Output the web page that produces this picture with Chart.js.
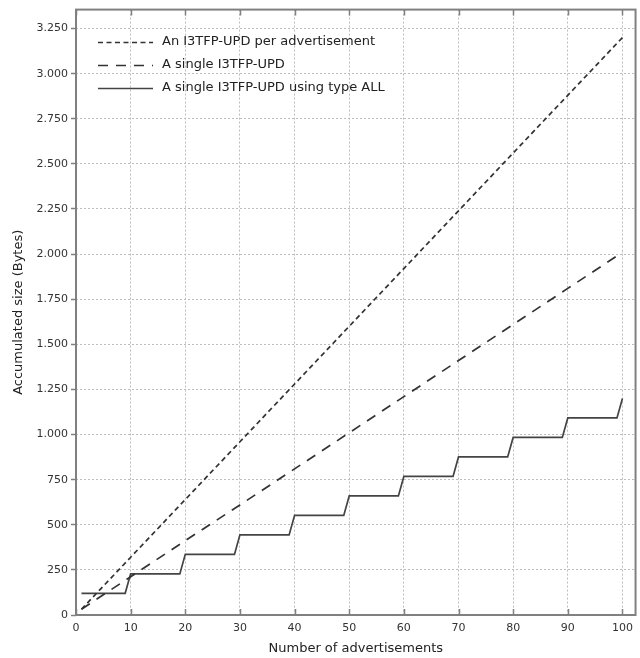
<!DOCTYPE html>
<html>
<head>
<meta charset="utf-8">
<script src="https://cdn.jsdelivr.net/npm/chart.js@4/dist/chart.umd.min.js"></script>
<style>
  html, body { margin: 0; padding: 0; background: #fff; }
  #wrap { width: 640px; height: 658px; }
</style>
</head>
<body>
<div id="wrap"><canvas id="chart" width="640" height="658"></canvas></div>
<script>
// Series names (legend order)
const seriesNames = [
    "An I3TFP-UPD per advertisement",
    "A single I3TFP-UPD",
    "A single I3TFP-UPD using type ALL"
];

// Number of advertisements (x) and accumulated size (y)
const perAdX = [1, 10, 20, 30, 40, 50, 60, 70, 80, 90, 100];
const perAdY = [32, 320, 640, 960, 1280, 1600, 1920, 2240, 2560, 2880, 3200];

const singleX = [1, 10, 20, 30, 40, 50, 60, 70, 80, 90, 100];
const singleY = [32, 212, 412, 610, 810, 1010, 1210, 1410, 1610, 1810, 2010];

const allX = [1, 9, 10, 19, 20, 29, 30, 39, 40, 49, 50, 59, 60, 69, 70, 79, 80, 89, 90, 99, 100];
const allY = [120, 120, 228, 228, 336, 336, 444, 444, 552, 552, 660, 660, 768, 768, 876, 876, 984, 984, 1092, 1092, 1200];

const FONT = "'DejaVu Sans', sans-serif";
const frameColor = "#808080";
const gridColor = "#bdbdbd";

function pts(xs, ys) {
    return xs.map(function (x, i) { return { x: x, y: ys[i] }; });
}

// y labels use a dot as thousands separator
function fmtThousands(v) {
    if (v < 1000) return String(v);
    let rest = String(v % 1000);
    while (rest.length < 3) rest = "0" + rest;
    return Math.floor(v / 1000) + "." + rest;
}

// frame, inner tick marks and the in-plot legend
const framePlugin = {
    id: "frame",
    afterDraw: function (chart) {
        const ctx = chart.ctx;
        const a = chart.chartArea;
        const xs = chart.scales.x;
        ctx.save();
        ctx.strokeStyle = frameColor;
        ctx.lineWidth = 1.5;
        ctx.setLineDash([]);
        xs.ticks.forEach(function (t) {
            const px = Math.round(xs.getPixelForValue(t.value)) + 0.5;
            ctx.beginPath();
            ctx.moveTo(px, a.bottom);
            ctx.lineTo(px, a.bottom - 6);
            ctx.moveTo(px, a.top);
            ctx.lineTo(px, a.top + 6);
            ctx.stroke();
        });
        ctx.lineWidth = 2;
        ctx.strokeRect(a.left, a.top, a.right - a.left, a.bottom - a.top);

        // legend
        ctx.font = "13px " + FONT;
        ctx.textBaseline = "middle";
        ctx.fillStyle = "#222";
        chart.data.datasets.forEach(function (ds, i) {
            const y = 42 + i * 23;
            ctx.strokeStyle = ds.borderColor;
            ctx.lineWidth = ds.borderWidth;
            ctx.setLineDash(ds.borderDash || []);
            ctx.beginPath();
            ctx.moveTo(98, y + 0.5);
            ctx.lineTo(153, y + 0.5);
            ctx.stroke();
            ctx.setLineDash([]);
            ctx.fillText(ds.label, 162, y);
        });
        ctx.restore();
    }
};

new Chart(document.getElementById("chart"), {
    type: "line",
    plugins: [framePlugin],
    data: {
        datasets: [
            {
                label: seriesNames[0],
                data: pts(perAdX, perAdY),
                borderColor: "#333",
                borderWidth: 1.7,
                borderDash: [5, 3.5]
            },
            {
                label: seriesNames[1],
                data: pts(singleX, singleY),
                borderColor: "#333",
                borderWidth: 1.7,
                borderDash: [10, 8]
            },
            {
                label: seriesNames[2],
                data: pts(allX, allY),
                borderColor: "#444",
                borderWidth: 1.7
            }
        ]
    },
    options: {
        responsive: false,
        animation: false,
        events: [],
        elements: { point: { radius: 0 }, line: { tension: 0 } },
        layout: { padding: { top: 9, right: 3, left: 0, bottom: 0 } },
        plugins: {
            legend: { display: false },
            tooltip: { enabled: false }
        },
        scales: {
            x: {
                type: "linear",
                min: 0,
                max: 102.4,
                afterFit: function (s) { s.height = 43; },
                border: { display: false, dash: [2, 2] },
                grid: {
                    color: gridColor,
                    drawTicks: false
                },
                ticks: {
                    stepSize: 10,
                    includeBounds: false,
                    padding: 7,
                    maxRotation: 0,
                    color: "#333",
                    font: { family: FONT, size: 11 }
                },
                title: {
                    display: true,
                    text: "Number of advertisements",
                    color: "#222",
                    font: { family: FONT, size: 13 },
                    padding: { top: 0, bottom: 2 }
                }
            },
            y: {
                min: 0,
                max: 3355,
                afterFit: function (s) { s.width = 76; },
                border: { display: false, dash: [2, 2] },
                grid: {
                    color: gridColor,
                    tickLength: 5,
                    tickColor: frameColor,
                    tickBorderDash: [],
                    tickWidth: 1.5
                },
                ticks: {
                    stepSize: 250,
                    includeBounds: false,
                    padding: 3,
                    color: "#333",
                    font: { family: FONT, size: 11 },
                    callback: function (v) { return fmtThousands(v); }
                },
                title: {
                    display: true,
                    text: "Accumulated size (Bytes)",
                    color: "#222",
                    font: { family: FONT, size: 13 },
                    padding: { top: 11, bottom: 0 }
                }
            }
        }
    }
});
</script>
</body>
</html>
